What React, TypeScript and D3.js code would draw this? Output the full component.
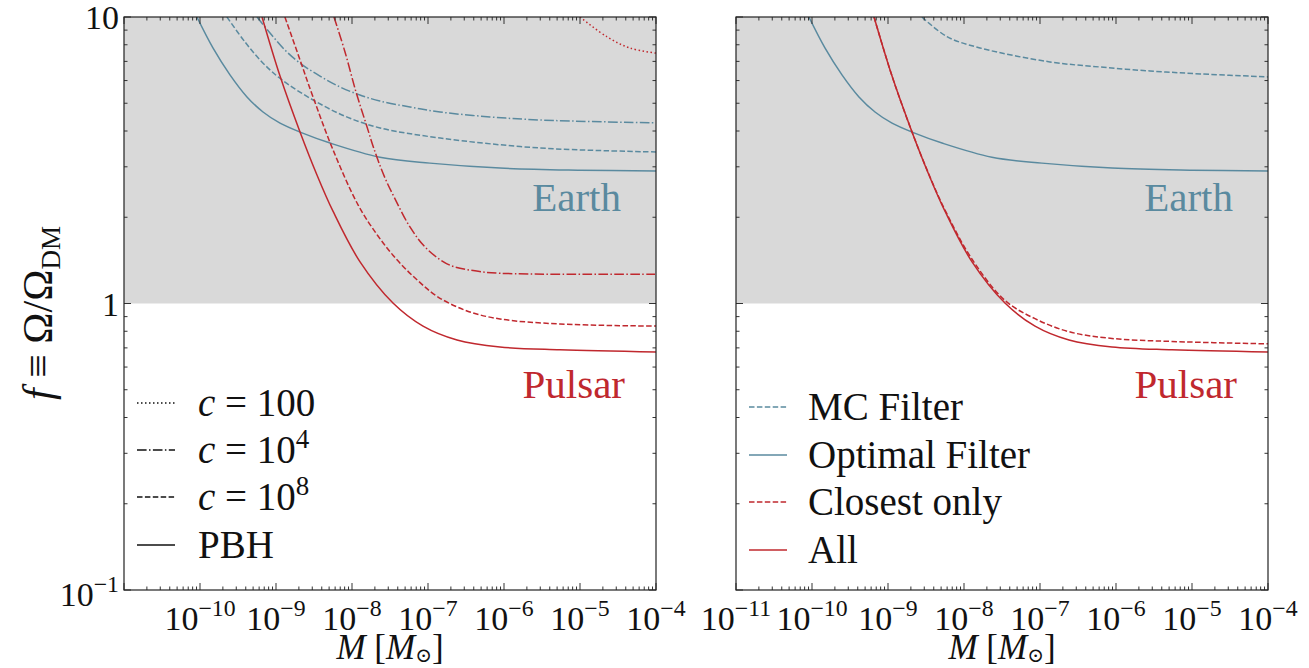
import React from 'react';
import * as d3 from 'd3';

// figure geometry
const W = 1309;
const H = 668;
const PANEL_X = [124, 736];
const PANEL_W = 532;
const TOP = 17;
const BOTTOM = 590;

const X_DOMAIN: [number, number] = [1e-11, 1e-4];
const Y_DOMAIN: [number, number] = [0.1, 10];
const X_MAJORS = [-11, -10, -9, -8, -7, -6, -5, -4];
const Y_MAJORS = [-1, 0, 1];

const RED = '#c0282e';
const BLUE = '#5a8a9f';
const FONT = "'Liberation Serif', 'Times New Roman', Tinos, 'DejaVu Serif', 'Noto Serif', FreeSerif, serif";

// ---- Earth (blue) curves, left panel ----
const earthPbhM = [9.1e-11, 1.48e-10, 2.48e-10, 4.15e-10, 6.75e-10, 1.13e-9, 2.2e-9, 5.14e-9, 2.33e-8, 1.06e-7, 8.85e-7, 1e-5, 1e-4];
const earthPbhF = [10, 7.8, 6.28, 5.26, 4.66, 4.26, 3.94, 3.63, 3.24, 3.09, 2.97, 2.92, 2.9];

const earthC8M = [2.26e-10, 3.91e-10, 6.76e-10, 1.2e-9, 3.09e-9, 8.5e-9, 2.34e-8, 1.45e-7, 2.95e-6, 1e-4];
const earthC8F = [10, 8.18, 6.9, 6.03, 5.13, 4.48, 4.1, 3.78, 3.49, 3.38];

const earthC4M = [5.62e-10, 8.34e-10, 1.31e-9, 2.07e-9, 3.79e-9, 6.95e-9, 1.27e-8, 2.33e-8, 5.79e-8, 1.44e-7, 6.55e-7, 2.98e-6, 9.7e-5];
const earthC4F = [10, 8.8, 7.67, 6.9, 6.22, 5.7, 5.34, 5.09, 4.85, 4.66, 4.48, 4.37, 4.27];

// ---- Pulsar (red) curves, left panel ----
const pulsarPbhM = [6.55e-10, 1.13e-9, 2.07e-9, 3.46e-9, 5.62e-9, 1.27e-8, 3.46e-8, 8.6e-8, 2.41e-7, 8.85e-7, 5.46e-6, 1e-4];
const pulsarPbhF = [10, 6.22, 3.97, 2.81, 2.1, 1.4, 1.004, 0.834, 0.746, 0.705, 0.689, 0.677];

const pulsarC8M = [1.31e-9, 2.07e-9, 3.07e-9, 5.62e-9, 1.2e-8, 2.2e-8, 3.91e-8, 7.16e-8, 1.31e-7, 3.26e-7, 8.85e-7, 5.46e-6, 1e-4];
const pulsarC8F = [10, 7.08, 5.26, 3.44, 2.21, 1.72, 1.42, 1.21, 1.06, 0.942, 0.883, 0.848, 0.834];

const pulsarC4M = [5.79e-9, 8.09e-9, 1.13e-8, 1.53e-8, 2.01e-8, 2.72e-8, 3.68e-8, 5.79e-8, 9.7e-8, 1.95e-7, 4.15e-7, 8.85e-7, 9.7e-5];
const pulsarC4F = [10, 7.55, 5.47, 4.24, 3.38, 2.74, 2.32, 1.85, 1.55, 1.36, 1.3, 1.275, 1.265];

const pulsarC2M = [1e-5, 2.29e-5, 4.57e-5, 1e-4];
const pulsarC2F = [10, 8.51, 7.79, 7.48];

// ---- right panel extras ----
const mcFilterM = [2.8e-9, 5.97e-9, 1.62e-8, 1.35e-7, 6.2e-7, 2.8e-6, 1.29e-5, 1e-4];
const mcFilterF = [10, 8.54, 7.8, 6.97, 6.69, 6.48, 6.33, 6.18];

const closestM = pulsarPbhM;
const closestF = [10, 6.22, 3.97, 2.82, 2.12, 1.43, 1.025, 0.885, 0.797, 0.755, 0.737, 0.723];

const DASH: Record<string, string | undefined> = {
  solid: undefined,
  dashed: '5.5,2.4',
  dashdot: '9.6,2.4,1.5,2.4',
  dotted: '1.5,2.5',
};

type Series = { m: number[]; f: number[]; color: string; style: string };

const leftSeries: Series[] = [
  { m: earthPbhM, f: earthPbhF, color: BLUE, style: 'solid' },
  { m: earthC8M, f: earthC8F, color: BLUE, style: 'dashed' },
  { m: earthC4M, f: earthC4F, color: BLUE, style: 'dashdot' },
  { m: pulsarPbhM, f: pulsarPbhF, color: RED, style: 'solid' },
  { m: pulsarC8M, f: pulsarC8F, color: RED, style: 'dashed' },
  { m: pulsarC4M, f: pulsarC4F, color: RED, style: 'dashdot' },
  { m: pulsarC2M, f: pulsarC2F, color: RED, style: 'dotted' },
];

const rightSeries: Series[] = [
  { m: mcFilterM, f: mcFilterF, color: BLUE, style: 'dashed' },
  { m: earthPbhM, f: earthPbhF, color: BLUE, style: 'solid' },
  { m: closestM, f: closestF, color: RED, style: 'dashed' },
  { m: pulsarPbhM, f: pulsarPbhF, color: RED, style: 'solid' },
];

const leftLegend = [
  { label: ['c', ' = 100', ''], color: '#111', style: 'dotted' },
  { label: ['c', ' = 10', '4'], color: '#111', style: 'dashdot' },
  { label: ['c', ' = 10', '8'], color: '#111', style: 'dashed' },
  { label: ['', 'PBH', ''], color: '#111', style: 'solid' },
];

const rightLegend = [
  { label: ['', 'MC Filter', ''], color: BLUE, style: 'dashed' },
  { label: ['', 'Optimal Filter', ''], color: BLUE, style: 'solid' },
  { label: ['', 'Closest only', ''], color: RED, style: 'dashed' },
  { label: ['', 'All', ''], color: RED, style: 'solid' },
];

const Pow = ({ e, size }: { e: number; size: number }) => (
  <>
    <tspan>10</tspan>
    <tspan dy={-size * 0.42} fontSize={size * 0.7}>{e < 0 ? '\u2212' + Math.abs(e) : String(e)}</tspan>
  </>
);

function Panel({ idx, series, legend, legendY, legendX, showYLabels, firstX }: any) {
  const x0 = PANEL_X[idx];
  const x1 = x0 + PANEL_W;
  const x = d3.scaleLog().domain(X_DOMAIN).range([x0, x1]);
  const y = d3.scaleLog().domain(Y_DOMAIN).range([BOTTOM, TOP]);
  const line = d3
    .line<[number, number]>()
    .x((d) => x(d[0]))
    .y((d) => y(d[1]))
    .curve(d3.curveCatmullRom.alpha(0.5));

  const xMinor: number[] = [];
  for (let k = -11; k < -4; k++) for (let m = 2; m <= 9; m++) xMinor.push(m * Math.pow(10, k));
  const yMinor: number[] = [];
  for (let k = -1; k < 1; k++) for (let m = 2; m <= 9; m++) yMinor.push(m * Math.pow(10, k));

  const clipId = `clip-${idx}`;
  const tickSize = 34;

  return (
    <g>
      <defs>
        <clipPath id={clipId}>
          <rect x={x0} y={TOP} width={PANEL_W} height={BOTTOM - TOP} />
        </clipPath>
      </defs>
      <rect x={x0} y={TOP} width={PANEL_W} height={y(1) - TOP} fill="#d9d9d9" />

      <g clipPath={`url(#${clipId})`}>
        {series.map((s: Series, i: number) => (
          <path
            key={i}
            d={line(s.m.map((m, j) => [m, s.f[j]] as [number, number])) || ''}
            fill="none"
            stroke={s.color}
            strokeWidth={1.5}
            strokeDasharray={DASH[s.style]}
          />
        ))}
      </g>

      {/* ticks, inward on all sides */}
      <g stroke="#333" strokeWidth={1}>
        {X_MAJORS.map((e) => {
          const px = x(Math.pow(10, e));
          return (
            <g key={'xm' + e}>
              <line x1={px} x2={px} y1={BOTTOM} y2={BOTTOM - 7} />
              <line x1={px} x2={px} y1={TOP} y2={TOP + 7} />
            </g>
          );
        })}
        {xMinor.map((v, i) => (
          <g key={'xn' + i}>
            <line x1={x(v)} x2={x(v)} y1={BOTTOM} y2={BOTTOM - 3.5} />
            <line x1={x(v)} x2={x(v)} y1={TOP} y2={TOP + 3.5} />
          </g>
        ))}
        {Y_MAJORS.map((e) => {
          const py = y(Math.pow(10, e));
          return (
            <g key={'ym' + e}>
              <line x1={x0} x2={x0 + 7} y1={py} y2={py} />
              <line x1={x1} x2={x1 - 7} y1={py} y2={py} />
            </g>
          );
        })}
        {yMinor.map((v, i) => (
          <g key={'yn' + i}>
            <line x1={x0} x2={x0 + 3.5} y1={y(v)} y2={y(v)} />
            <line x1={x1} x2={x1 - 3.5} y1={y(v)} y2={y(v)} />
          </g>
        ))}
      </g>
      <rect x={x0} y={TOP} width={PANEL_W} height={BOTTOM - TOP} fill="none" stroke="#222" strokeWidth={1.2} />

      {/* x tick labels */}
      <g style={{ fontFamily: FONT }} fontSize={tickSize} fill="#111" textAnchor="middle">
        {X_MAJORS.filter((e) => e >= firstX).map((e) => (
          <text key={'xl' + e} x={x(Math.pow(10, e))} y={630}>
            <Pow e={e} size={tickSize} />
          </text>
        ))}
      </g>
      <text x={(x0 + x1) / 2} y={659} style={{ fontFamily: FONT }} fontSize={35} textAnchor="middle" fill="#111">
        <tspan fontStyle="italic">M</tspan>
        <tspan> [</tspan>
        <tspan fontStyle="italic">M</tspan>
        <tspan dy={3} fontSize={20}>{'\u2299'}</tspan>
        <tspan dy={-3}>]</tspan>
      </text>

      {showYLabels && (
        <g style={{ fontFamily: FONT }} fontSize={tickSize} fill="#111" textAnchor="end">
          <text x={x0 - 5} y={y(10) + 12}>10</text>
          <text x={x0 - 5} y={y(1) + 12}>1</text>
          <text x={x0 - 5} y={y(0.1) + 16}>
            <Pow e={-1} size={tickSize} />
          </text>
        </g>
      )}

      {/* region labels */}
      <text x={x1 - 35} y={211} style={{ fontFamily: FONT }} fontSize={41} fill={BLUE} textAnchor="end">Earth</text>
      <text x={x1 - 31} y={398} style={{ fontFamily: FONT }} fontSize={41} fill={RED} textAnchor="end">Pulsar</text>

      {/* legend */}
      {legend.map((l: any, i: number) => {
        const ly = legendY[i];
        return (
          <g key={'lg' + i}>
            <line
              x1={x0 + 13}
              x2={x0 + 51}
              y1={ly}
              y2={ly}
              stroke={l.color}
              strokeWidth={1.5}
              strokeDasharray={DASH[l.style]}
            />
            <text x={x0 + legendX} y={ly + 13} style={{ fontFamily: FONT }} fontSize={39} fill="#111">
              {l.label[0] && <tspan fontStyle="italic">{l.label[0]}</tspan>}
              <tspan>{l.label[1]}</tspan>
              {l.label[2] && (
                <tspan dy={-15} fontSize={27}>{l.label[2]}</tspan>
              )}
            </text>
          </g>
        );
      })}
    </g>
  );
}

export default function App() {
  return (
    <svg
      width={W}
      height={H}
      viewBox={`0 0 ${W} ${H}`}
      style={{ position: 'absolute', left: 0, top: 0, background: '#fff' }}
    >
      <Panel
        idx={0}
        series={leftSeries}
        legend={leftLegend}
        legendY={[403, 450, 497, 545]}
        legendX={74}
        showYLabels
        firstX={-10}
      />
      <Panel
        idx={1}
        series={rightSeries}
        legend={rightLegend}
        legendY={[407, 455, 502, 550]}
        legendX={72}
        showYLabels={false}
        firstX={-11}
      />
      <text
        transform="translate(52,313) rotate(-90)"
        style={{ fontFamily: FONT }}
        fontSize={42}
        fill="#111"
        textAnchor="middle"
      >
        <tspan fontStyle="italic">f</tspan>
        <tspan>{' \u2261 \u03a9/\u03a9'}</tspan>
        <tspan dy={8} fontSize={27}>DM</tspan>
      </text>
    </svg>
  );
}
